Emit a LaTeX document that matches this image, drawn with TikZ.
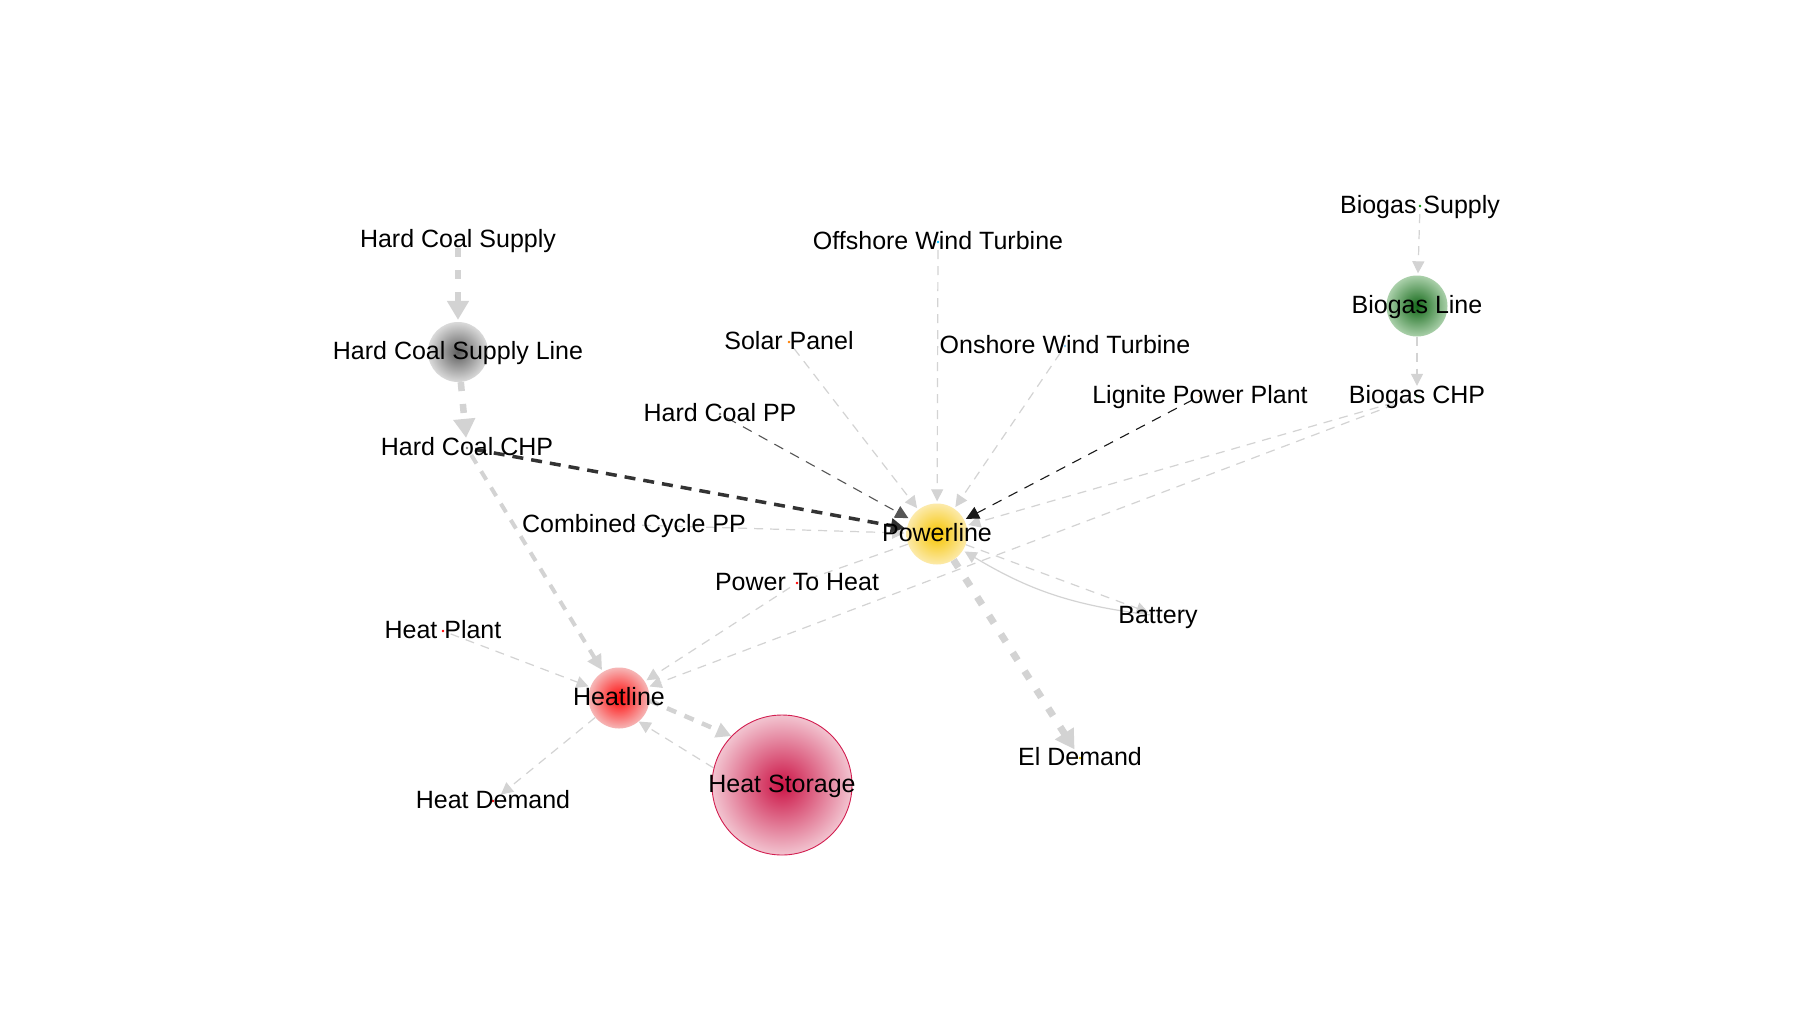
\documentclass[tikz,border=0pt]{standalone}
\usepackage{fontspec}
\setmainfont{Liberation Sans}
\usetikzlibrary{arrows.meta,backgrounds}
\definecolor{lg}{HTML}{D3D3D3}
\definecolor{dk}{HTML}{333333}
\definecolor{md}{HTML}{555555}
\definecolor{bk}{HTML}{1A1A1A}
\definecolor{coalin}{HTML}{5E5E5E}
\definecolor{coalout}{HTML}{DADADA}
\definecolor{bioin}{HTML}{146919}
\definecolor{bioout}{HTML}{AAD0AA}
\definecolor{powin}{HTML}{F6C400}
\definecolor{powout}{HTML}{FCEAAA}
\definecolor{heatin}{HTML}{FF0A0A}
\definecolor{heatout}{HTML}{F6B6B6}
\definecolor{stin}{HTML}{CC1446}
\definecolor{stout}{HTML}{F2C4D0}
\definecolor{stline}{HTML}{D21E50}
\definecolor{offc}{HTML}{00BEFF}
\definecolor{onc}{HTML}{87CEFA}
\definecolor{bioc}{HTML}{009600}
\definecolor{eldc}{HTML}{E6BE00}
\tikzset{
  lbl/.style={font=\fontsize{25}{30}\selectfont, text height=19pt, text depth=4pt, inner sep=0pt},
  pt/.style={circle, minimum size=16pt, inner sep=0pt,
    path picture={\fill[#1] (path picture bounding box.center) circle (1.4pt);}},
  hub/.style={circle, minimum size=#1, inner sep=0pt},
  ethin/.style={draw=lg, line width=1.2pt, dash pattern=on 9pt off 7pt,
    -{Triangle[length=12pt,width=12pt]}, shorten >=2pt},
  emid/.style={draw=lg, line width=4pt, dash pattern=on 10pt off 9pt,
    -{Triangle[length=15pt,width=15pt]}, shorten >=2pt},
  ethick/.style={draw=lg, line width=6.5pt, dash pattern=on 9pt off 13pt,
    -{Triangle[length=19pt,width=21pt]}, shorten >=2pt},
  esolid/.style={draw=lg, line width=1.2pt,
    -{Triangle[length=12pt,width=12pt]}, shorten >=2pt},
}
\begin{document}
\begin{tikzpicture}[x=1pt,y=-1pt]
\useasboundingbox (0,0) rectangle (1804,1021);
\begin{scope}[on background layer]
\fill[white] (0,0) rectangle (1804,1021);
\end{scope}

% hub circles
\node[hub=60pt, inner color=coalin, outer color=coalout] (hcsl) at (458,352) {};
\node[hub=61pt, inner color=bioin, outer color=bioout] (bgl) at (1417,306) {};
\node[hub=61pt, inner color=powin, outer color=powout] (pl) at (937,534) {};
\node[hub=61pt, inner color=heatin, outer color=heatout] (hl) at (619,698) {};
\node[hub=140pt, inner color=stin, outer color=stout, draw=stline, line width=0.9pt] (hs) at (782,785) {};

% point nodes
\node[pt=gray] (hcs) at (458,240) {};
\node[pt=gray] (hcchp) at (467,448) {};
\node[pt=offc] (owt) at (938,242) {};
\node[pt=orange] (sp) at (789,342) {};
\node[pt=onc] (onwt) at (1065,346) {};
\node[pt=gray] (hcpp) at (720,414) {};
\node[pt=brown] (lpp) at (1200,396) {};
\node[pt=bioc] (bgs) at (1420,206) {};
\node[pt=bioc] (bgchp) at (1417,396) {};
\node[pt=gray] (ccpp) at (634,525) {};
\node[pt=red] (p2h) at (797,583) {};
\node[pt=gray] (bat) at (1158,616) {};
\node[pt=red] (hp) at (443,631) {};
\node[pt=eldc] (eld) at (1080,758) {};
\node[pt=red] (hd) at (493,801) {};

% edges
\begin{scope}[on background layer]
\draw[ethick] (hcs) -- (hcsl);
\draw[ethick] (hcsl) -- (hcchp);
\draw[emid] (hcchp) -- (hl);
\draw[ethin] (owt) -- (pl);
\draw[ethin] (sp) -- (pl);
\draw[ethin] (onwt) -- (pl);
\draw[ethin] (ccpp) -- (pl);
\draw[ethin] (bgchp) -- (pl);
\draw[ethin] (bgchp) -- (hl);
\draw[ethin,-] (pl) -- (p2h);
\draw[ethin] (p2h) -- (hl);
\draw[ethin] (pl) -- (bat);
\draw[esolid] (bat) to[bend left=12] (pl);
\draw[ethin] (bgs) -- (bgl);
\draw[ethin] (bgl) -- (bgchp);
\draw[ethin] (hp) -- (hl);
\draw[ethin, shorten >=0pt] (hs.166) -- (hl.-50);
\draw[ethin] (hl) -- (hd);
\draw[emid, line width=4.5pt, shorten >=0pt] (hl.-5) -- (hs.136);
\draw[ethick, line width=7pt] (pl) -- (eld);
\draw[ethin, draw=md, line width=1.1pt, -{Triangle[length=13pt,width=13pt]}, dash pattern=on 10pt off 8pt] (hcpp) -- (pl);
\draw[ethin, draw=bk, line width=1.1pt, -{Triangle[length=13pt,width=13pt]}, dash pattern=on 10pt off 8pt] (lpp) -- (pl);
\draw[emid, draw=dk, line width=3.5pt, -{Triangle[length=14pt,width=14pt]}, dash pattern=on 11pt off 8pt] (hcchp) -- (pl);
\end{scope}

% labels
\node[lbl] (hcs-t) at (hcs) {Hard Coal Supply};
\node[lbl] (hcsl-t) at (hcsl) {Hard Coal Supply Line};
\node[lbl] (hcchp-t) at (hcchp) {Hard Coal CHP};
\node[lbl] (owt-t) at (owt) {Offshore Wind Turbine};
\node[lbl] (sp-t) at (sp) {Solar Panel};
\node[lbl] (onwt-t) at (onwt) {Onshore Wind Turbine};
\node[lbl] (hcpp-t) at (hcpp) {Hard Coal PP};
\node[lbl] (lpp-t) at (lpp) {Lignite Power Plant};
\node[lbl] (bgs-t) at (bgs) {Biogas Supply};
\node[lbl] (bgl-t) at (bgl) {Biogas Line};
\node[lbl] (bgchp-t) at (bgchp) {Biogas CHP};
\node[lbl] (ccpp-t) at (ccpp) {Combined Cycle PP};
\node[lbl] (pl-t) at (pl) {Powerline};
\node[lbl] (p2h-t) at (p2h) {Power To Heat};
\node[lbl] (bat-t) at (bat) {Battery};
\node[lbl] (hp-t) at (hp) {Heat Plant};
\node[lbl] (hl-t) at (hl) {Heatline};
\node[lbl] (hs-t) at (hs) {Heat Storage};
\node[lbl] (eld-t) at (eld) {El Demand};
\node[lbl] (hd-t) at (hd) {Heat Demand};
\end{tikzpicture}
\end{document}
